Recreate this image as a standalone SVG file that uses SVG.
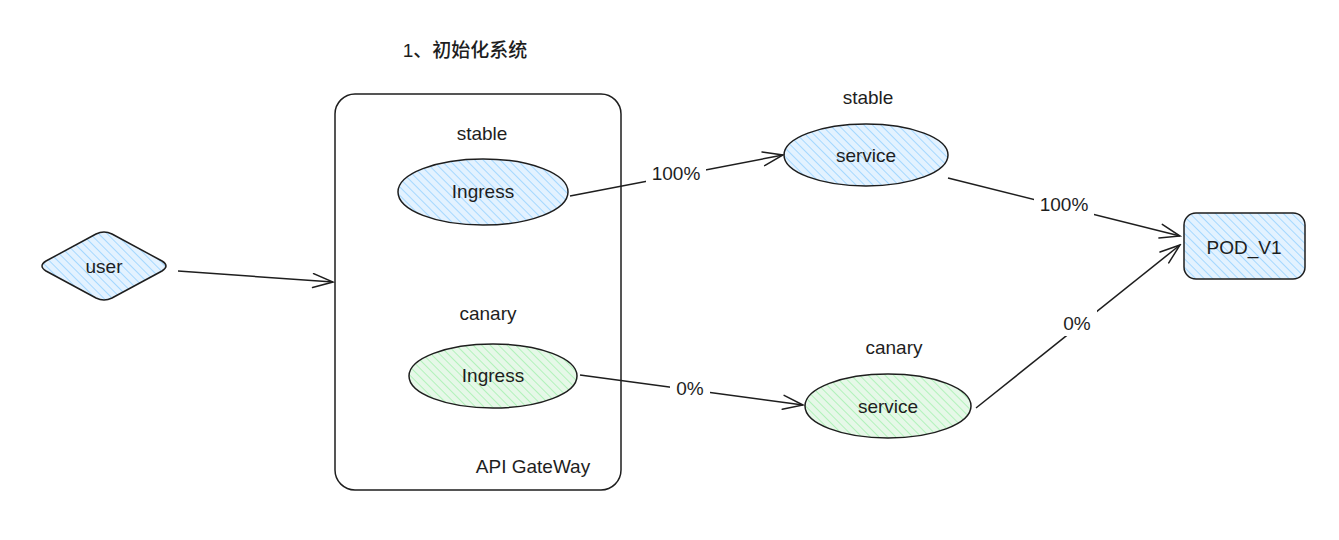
<svg xmlns="http://www.w3.org/2000/svg" width="1339" height="540" viewBox="0 0 1339 540">
<defs>
<pattern id="hb" patternUnits="userSpaceOnUse" width="6" height="6" patternTransform="rotate(-45)">
<rect width="6" height="6" fill="#e3f2ff"/>
<line x1="0" y1="0" x2="0" y2="6" stroke="#a5d8ff" stroke-width="2"/>
</pattern>
<pattern id="hg" patternUnits="userSpaceOnUse" width="6" height="6" patternTransform="rotate(-45)">
<rect width="6" height="6" fill="#e6f8e8"/>
<line x1="0" y1="0" x2="0" y2="6" stroke="#b2f2bb" stroke-width="2"/>
</pattern>
<marker id="ah" markerWidth="24" markerHeight="16" refX="22" refY="8" orient="auto" markerUnits="userSpaceOnUse">
<path d="M2,1 L22,8 L2,15" fill="none" stroke="#1e1e1e" stroke-width="1.5" stroke-linecap="round"/>
</marker>
</defs>
<style>
.s{stroke:#1e1e1e;stroke-width:1.5}
.t{font-family:"Liberation Sans","Noto Sans CJK SC",sans-serif;font-size:19px;fill:#1e1e1e;text-anchor:middle;dominant-baseline:central}
.c{fill:none;stroke:#1e1e1e;stroke-width:1.5;marker-end:url(#ah)}
</style>
<rect width="1339" height="540" fill="#ffffff"/>
<text class="t" x="465" y="50" style="font-size:19px;font-weight:500">1、初始化系统</text>
<g id="gateway">
<rect x="335" y="94" width="286" height="396" rx="20" fill="none" class="s"/>
<text class="t" x="533" y="466">API GateWay</text>
</g>
<g id="user">
<path d="M104,232 Q108,232 112,234 L162,261 Q170,266 162,271 L112,298 Q104,302 96,298 L46,271 Q38,266 46,261 L96,234 Q100,232 104,232 Z" fill="url(#hb)" class="s"/>
<text class="t" x="104" y="266">user</text>
</g>
<g id="ingress-stable">
<text class="t" x="482" y="133">stable</text>
<ellipse cx="483" cy="192" rx="85" ry="33" fill="url(#hb)" class="s"/>
<text class="t" x="483" y="191">Ingress</text>
</g>
<g id="ingress-canary">
<text class="t" x="488" y="313">canary</text>
<ellipse cx="493" cy="376" rx="84" ry="32" fill="url(#hg)" class="s"/>
<text class="t" x="493" y="375">Ingress</text>
</g>
<g id="service-stable">
<text class="t" x="868" y="97">stable</text>
<ellipse cx="866" cy="155" rx="82" ry="31" fill="url(#hb)" class="s"/>
<text class="t" x="866" y="155">service</text>
</g>
<g id="service-canary">
<text class="t" x="894" y="347">canary</text>
<ellipse cx="888" cy="406" rx="83" ry="32" fill="url(#hg)" class="s"/>
<text class="t" x="888" y="406">service</text>
</g>
<g id="pod">
<rect x="1184" y="213" width="121" height="66" rx="12" fill="url(#hb)" class="s"/>
<text class="t" x="1244" y="247">POD_V1</text>
</g>
<g id="connectors">
<path class="c" d="M178,271 L333,282"/>
<path class="c" d="M570,196 L783,155"/>
<path class="c" d="M580,375 L803,405"/>
<path class="c" d="M948,178 L1180,236"/>
<path class="c" d="M976,408 L1180,245"/>
<rect x="646" y="160" width="60" height="26" fill="#ffffff"/>
<text class="t" x="676" y="173">100%</text>
<rect x="670" y="376" width="40" height="26" fill="#ffffff"/>
<text class="t" x="690" y="388">0%</text>
<rect x="1034" y="191" width="60" height="26" fill="#ffffff"/>
<text class="t" x="1064" y="204">100%</text>
<rect x="1057" y="310" width="40" height="26" fill="#ffffff"/>
<text class="t" x="1077" y="323">0%</text>
</g>
</svg>
